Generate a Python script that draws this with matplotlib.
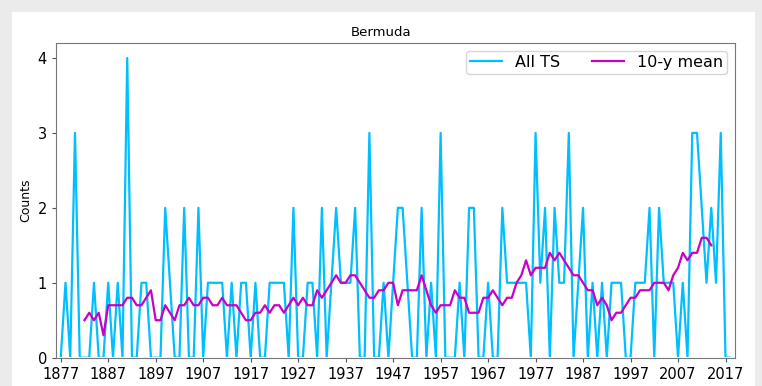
import matplotlib
matplotlib.use("Agg")
import matplotlib.pyplot as plt
from matplotlib.patches import Rectangle
import numpy as np

# yearly tropical storm counts, 1877-2018
first_year = 1877
counts = [
    0, 1, 0, 3, 0, 0, 0, 1, 0, 0,   # 1877-1886
    1, 0, 1, 0, 4, 0, 0, 1, 1, 0,   # 1887-1896
    0, 0, 2, 1, 0, 0, 2, 0, 0, 2,   # 1897-1906
    0, 1, 1, 1, 1, 0, 1, 0, 1, 1,   # 1907-1916
    0, 1, 0, 0, 1, 1, 1, 1, 0, 2,   # 1917-1926
    0, 0, 1, 1, 0, 2, 0, 1, 2, 1,   # 1927-1936
    1, 1, 2, 0, 0, 3, 0, 0, 1, 0,   # 1937-1946
    1, 2, 2, 1, 0, 0, 2, 0, 1, 0,   # 1947-1956
    3, 0, 0, 0, 1, 0, 2, 2, 0, 0,   # 1957-1966
    1, 0, 0, 2, 1, 1, 1, 1, 1, 0,   # 1967-1976
    3, 1, 2, 0, 2, 1, 1, 3, 0, 1,   # 1977-1986
    2, 0, 1, 0, 1, 0, 1, 1, 1, 0,   # 1987-1996
    0, 1, 1, 1, 2, 0, 2, 1, 1, 1,   # 1997-2006
    0, 1, 0, 3, 3, 2, 1, 2, 1, 3,   # 2007-2016
    0, 0,                           # 2017-2018
]

# centred 10-year mean, 1882-2014
mean_first_year = 1882
mean_10y = [
    0.5, 0.6, 0.5, 0.6, 0.3, 0.7, 0.7, 0.7, 0.7, 0.8,   # 1882-1891
    0.8, 0.7, 0.7, 0.8, 0.9, 0.5, 0.5, 0.7, 0.6, 0.5,   # 1892-1901
    0.7, 0.7, 0.8, 0.7, 0.7, 0.8, 0.8, 0.7, 0.7, 0.8,   # 1902-1911
    0.7, 0.7, 0.7, 0.6, 0.5, 0.5, 0.6, 0.6, 0.7, 0.6,   # 1912-1921
    0.7, 0.7, 0.6, 0.7, 0.8, 0.7, 0.8, 0.7, 0.7, 0.9,   # 1922-1931
    0.8, 0.9, 1.0, 1.1, 1.0, 1.0, 1.1, 1.1, 1.0, 0.9,   # 1932-1941
    0.8, 0.8, 0.9, 0.9, 1.0, 1.0, 0.7, 0.9, 0.9, 0.9,   # 1942-1951
    0.9, 1.1, 0.9, 0.7, 0.6, 0.7, 0.7, 0.7, 0.9, 0.8,   # 1952-1961
    0.8, 0.6, 0.6, 0.6, 0.8, 0.8, 0.9, 0.8, 0.7, 0.8,   # 1962-1971
    0.8, 1.0, 1.1, 1.3, 1.1, 1.2, 1.2, 1.2, 1.4, 1.3,   # 1972-1981
    1.4, 1.3, 1.2, 1.1, 1.1, 1.0, 0.9, 0.9, 0.7, 0.8,   # 1982-1991
    0.7, 0.5, 0.6, 0.6, 0.7, 0.8, 0.8, 0.9, 0.9, 0.9,   # 1992-2001
    1.0, 1.0, 1.0, 0.9, 1.1, 1.2, 1.4, 1.3, 1.4, 1.4,   # 2002-2011
    1.6, 1.6, 1.5,                                      # 2012-2014
]

years = np.arange(first_year, first_year + len(counts))
mean_years = np.arange(mean_first_year, mean_first_year + len(mean_10y))
tick_years = np.arange(1877, 2018, 10)

fig = plt.figure(figsize=(7.62, 3.86), dpi=100, facecolor="#ebebeb")
# white card behind the plot
fig.patches.append(Rectangle((12 / 762, 0), 743 / 762, 374 / 386,
                             transform=fig.transFigure, facecolor="white",
                             edgecolor="none", zorder=-10))

ax = fig.add_axes([56 / 762, 1 - 357.7 / 386, 679 / 762, 314.7 / 386])
ax.set_zorder(1)
ts_line, = ax.plot(years, counts, color="#00bfff", lw=1.6, label="All TS")
ax.plot(mean_years, mean_10y, color="#c800c8", lw=1.6, label="10-y mean")

# keep the zero runs from painting over the bottom spine
clip = Rectangle((1870, 0.012), 200, 10, transform=ax.transData)
ts_line.set_clip_path(clip)

ax.set_xlim(1876, 2019)
ax.set_ylim(0, 4.2)
ax.set_xticks(tick_years)
ax.set_yticks([0, 1, 2, 3, 4])
ax.tick_params(labelsize=10.5, length=3, color="#555555")
for s in ax.spines.values():
    s.set_color("#777777")

ax.set_title("Bermuda", fontsize=9.5, pad=5, x=0.479)
ax.set_ylabel("Counts", fontsize=9)
ax.set_xlabel("Years", fontsize=9, labelpad=2)
ax.legend(loc="upper right", ncol=2, fontsize=11.5, borderpad=0.25)

fig.savefig("out.png", dpi=100, facecolor=fig.get_facecolor())
